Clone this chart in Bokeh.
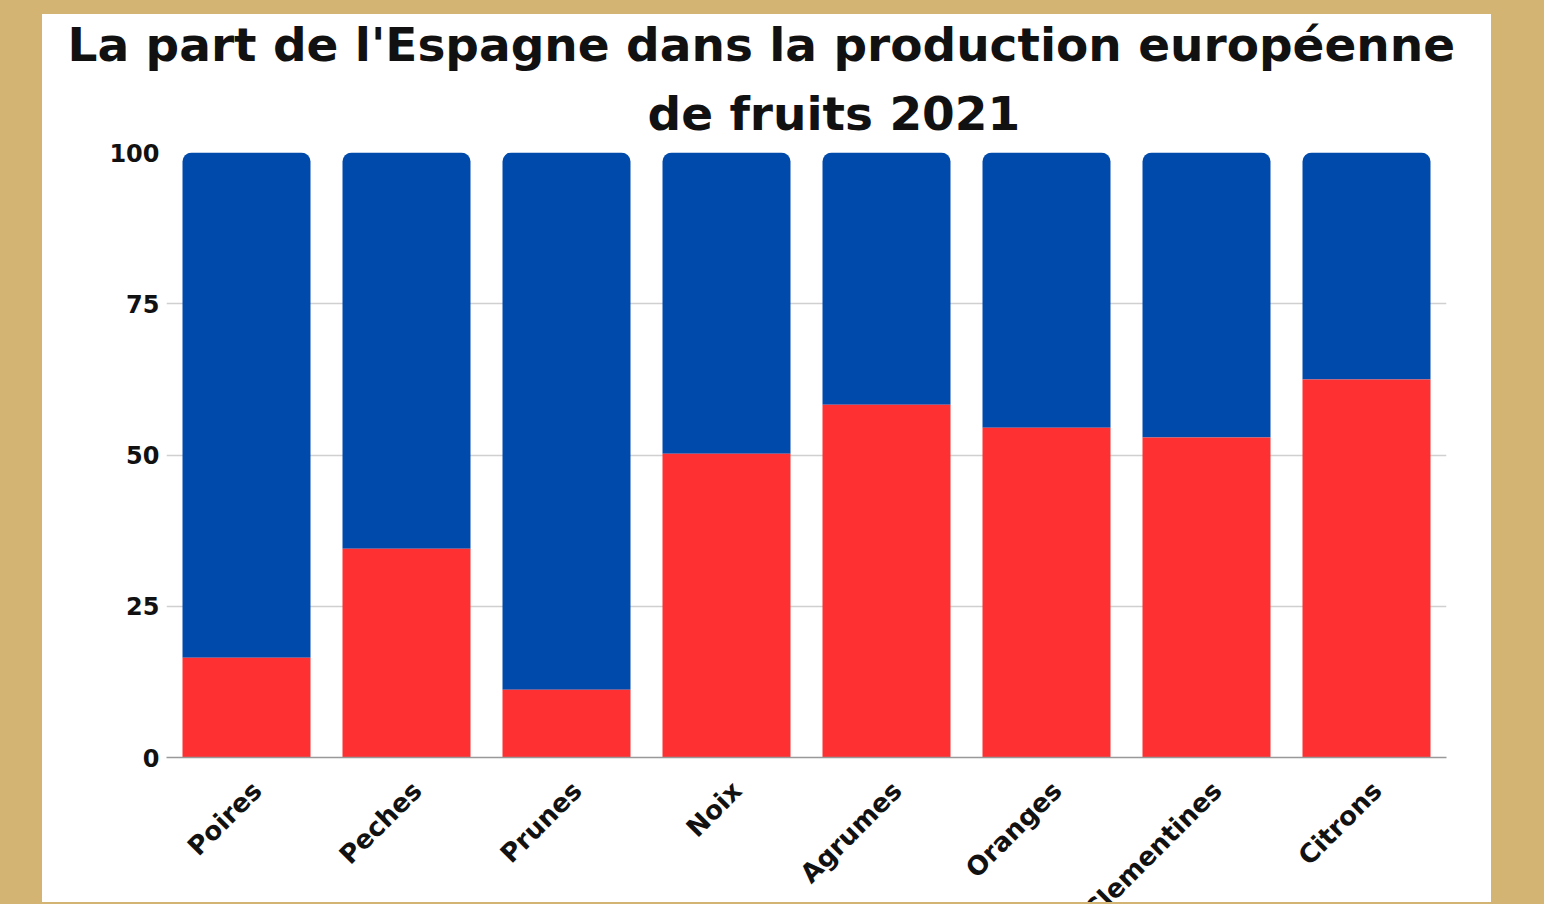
from bokeh.plotting import figure
from bokeh.models import Title, FactorRange, ColumnDataSource, Range1d
from bokeh.core.properties import value
from bokeh.layouts import column
from bokeh.embed import file_html
from bokeh.resources import INLINE
import math

fruits = ["Poires", "Peches", "Prunes", "Noix", "Agrumes", "Oranges", "Clementines", "Citrons"]
espagne = [16.5, 34.5, 11.2, 50.2, 58.3, 54.5, 52.9, 62.5]
reste = [round(100 - v, 1) for v in espagne]
y_ticks = [0, 25, 50, 75, 100]

RED = "#FE3031"
BLUE = "#004AAB"
FONT = "DejaVu Sans"
WHITE_BG = {"background-color": "white"}

src = ColumnDataSource(dict(fruit=fruits, espagne=espagne, reste=reste,
                            total=[e + r for e, r in zip(espagne, reste)],
                            top=[1] * len(fruits)))

xr = FactorRange(factors=fruits, range_padding=0)

p = figure(x_range=xr, y_range=(0, 100),
           width=1449, height=757, output_backend="svg", toolbar_location=None,
           title=None, margin=0, styles=WHITE_BG,
           min_border_left=124, min_border_right=45, min_border_top=20, min_border_bottom=14)
p.background_fill_color = "white"
p.border_fill_color = "white"
p.outline_line_color = None

p.add_layout(Title(text="de fruits  2021", text_font=FONT, text_font_size="47px",
                   text_font_style="bold", align="left", offset=481, text_color="#111111",
                   standoff=24), "above")
p.add_layout(Title(text="La part de l'Espagne dans la production européenne", text_font=FONT,
                   text_font_size="47px", text_font_style="bold", align="left", offset=-99,
                   text_color="#111111", standoff=0), "above")

p.vbar(x="fruit", bottom="espagne", top="total", width=0.8, source=src,
       fill_color=BLUE, line_color=None, border_radius=(9, 9, 0, 0))
p.vbar(x="fruit", bottom=0, top="espagne", width=0.8, source=src,
       fill_color=RED, line_color=None)

p.yaxis.ticker = y_ticks
p.yaxis.axis_line_color = None
p.yaxis.major_tick_line_color = None
p.yaxis.minor_tick_line_color = None
p.yaxis.major_label_text_font = FONT
p.yaxis.major_label_text_font_size = "24px"
p.yaxis.major_label_text_font_style = "bold"
p.yaxis.major_label_text_color = "#111111"
p.yaxis.major_label_standoff = 1

p.xaxis.axis_line_color = "#999999"
p.xaxis.axis_line_width = 1.5
p.xaxis.major_tick_line_color = None
p.xaxis.minor_tick_line_color = None
p.xaxis.major_label_text_font_size = "0px"
p.xaxis.major_label_standoff = 0

p.xgrid.grid_line_color = None
p.ygrid.grid_line_color = "#D0D0D0"
p.ygrid.grid_line_width = 1.5

# category labels strip below the chart, sharing the same factor range
p2 = figure(x_range=xr, y_range=Range1d(0, 1), width=1449, height=131,
            output_backend="svg", toolbar_location=None, title=None, margin=0, styles=WHITE_BG,
            min_border_left=124, min_border_right=45, min_border_top=4, min_border_bottom=0)
p2.axis.visible = False
p2.grid.grid_line_color = None
p2.outline_line_color = None
p2.background_fill_color = "white"
p2.border_fill_color = "white"
p2.text(x="fruit", y="top", text="fruit", source=src, angle=math.pi / 4, x_offset=0,
        text_align="right", text_baseline="top", text_font=value(FONT),
        text_font_size="26px", text_font_style="bold", text_color="#111111")

layout = column(p, p2, spacing=0, margin=(14, 0, 0, 42), styles=WHITE_BG)

html = file_html(layout, INLINE)
html = html.replace("<head>", "<head><style>html,body{background:#D3B473;overflow:hidden;}</style>", 1)
open("out.html", "w").write(html)
